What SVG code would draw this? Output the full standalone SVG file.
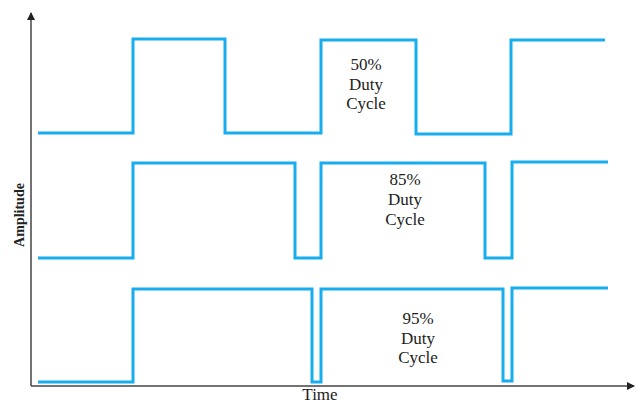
<svg xmlns="http://www.w3.org/2000/svg" width="638" height="403" viewBox="0 0 638 403">
<style>
.w{fill:none;stroke:#17adee;stroke-width:3;stroke-linejoin:miter}
.ax{fill:none;stroke:#444;stroke-width:1.5}
.t{font-family:"Liberation Serif","Times New Roman",serif;font-size:17px;fill:#222;text-anchor:middle}
</style>
<defs>
<marker id="ah" markerWidth="8" markerHeight="8" refX="7" refY="4" orient="auto" markerUnits="userSpaceOnUse">
<path d="M0,0 L8,4 L0,8 Z" fill="#222"/>
</marker>
</defs>
<rect width="638" height="403" fill="#fff"/>
<g id="axes">
<line class="ax" x1="31" y1="386" x2="31" y2="13" marker-end="url(#ah)"/>
<line class="ax" x1="31" y1="386" x2="634" y2="386" marker-end="url(#ah)"/>
</g>
<g id="wave50">
<polyline class="w" points="38,133 133,133 133,39 225,39 225,133 321,133 321,40 416,40 416,134 511,134 511,40 605,40"/>
<text class="t" x="366" y="70">50%</text>
<text class="t" x="366" y="90">Duty</text>
<text class="t" x="366" y="109">Cycle</text>
</g>
<g id="wave85">
<polyline class="w" points="38,258 133,258 133,163 295,163 295,258 321,258 321,163 485,163 485,258 512,258 512,162 608,162"/>
<text class="t" x="405" y="185">85%</text>
<text class="t" x="405" y="205">Duty</text>
<text class="t" x="405" y="225">Cycle</text>
</g>
<g id="wave95">
<polyline class="w" points="38,382 133,382 133,289 312,289 312,382 321,382 321,289 503,289 503,381 512,381 512,288 608,288"/>
<text class="t" x="418" y="324">95%</text>
<text class="t" x="418" y="344">Duty</text>
<text class="t" x="418" y="363">Cycle</text>
</g>
<g id="labels">
<text class="t" x="320" y="400">Time</text>
<text class="t" x="0" y="0" transform="translate(24,215) rotate(-90)" style="font-size:14px;font-weight:bold">Amplitude</text>
</g>
</svg>
